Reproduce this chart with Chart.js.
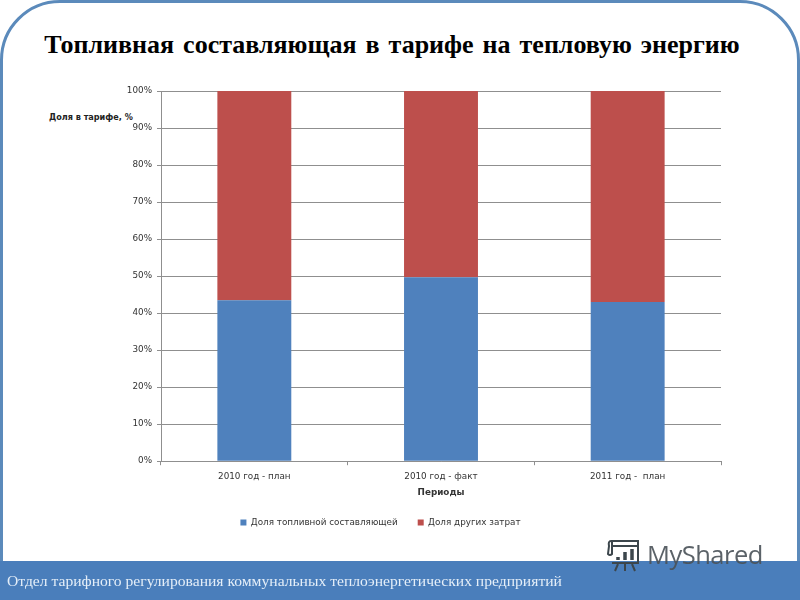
<!DOCTYPE html>
<html lang="ru"><head><meta charset="utf-8">
<script src="https://cdn.jsdelivr.net/npm/chart.js@4"></script>
<style>
html,body{margin:0;padding:0;background:#fff}
#stage{position:relative;width:800px;height:600px;overflow:hidden;background:#fff}
#frame{position:absolute;left:0;top:0;width:794px;height:600px;border:3px solid #5b8abb;border-radius:60px 60px 0 0}
#band{position:absolute;left:0;top:561px;width:800px;height:39px;background:#4a7ebb}
#foot{position:absolute;left:7px;top:572px;font:15.62px "Liberation Serif",serif;color:#e4eef8;white-space:nowrap}
#ttl{position:absolute;left:0;width:784px;text-align:center;top:30px;font:bold 26px "Liberation Serif",serif;color:#000;white-space:nowrap;word-spacing:2.5px}
#ylab{position:absolute;left:49px;top:112px;font:bold 8.1px "DejaVu Sans",sans-serif;color:#222;white-space:nowrap}
canvas{position:absolute;left:0;top:0}
#wm{position:absolute;left:647px;top:537px;font:25.5px "Open Sans",sans-serif;color:#4a5258;opacity:.9;white-space:nowrap;letter-spacing:-.5px}
#ic{position:absolute;left:606px;top:537px}
</style></head><body>
<div id="stage">
<div id="frame"></div><div id="band"></div>
<div id="ttl">Топливная составляющая в тарифе на тепловую энергию</div>
<div id="ylab">Доля в тарифе, %</div>
<canvas id="c" width="800" height="600"></canvas>
<div id="foot">Отдел тарифного регулирования коммунальных теплоэнергетических предприятий</div>
<svg id="ic" width="36" height="36" viewBox="0 0 36 36" fill="none" stroke="#3c464c" stroke-width="2">
<path d="M5 4H33M5 4Q2 4 3 9L2 17Q4 19 6 17V5M6 9H32V26H6M32 4V9"/>
<path d="M12 27L9 34M19 27V34M26 27L29 34"/>
<path d="M12 23V20M19 23V15M26 23V12" stroke-width="3.5"/>
</svg>
<div id="wm">MyShared</div>
</div>
<script>
const categories=["2010 год - план","2010 год - факт","2011 год -  план"];
const fuelShare=[43.5,49.7,43];
const otherShare=[56.5,50.3,57];
const seriesNames=["Доля топливной составляющей","Доля других затрат"];
const axisXTitle="Периоды";
const small={family:'"DejaVu Sans",sans-serif',size:8.8};
new Chart(document.getElementById('c'),{
 type:'bar',
 data:{labels:categories,datasets:[
  {label:seriesNames[0],data:fuelShare,backgroundColor:'#4f81bd',stack:'a'},
  {label:seriesNames[1],data:otherShare,backgroundColor:'#bd4f4c',stack:'a'}]},
 options:{
  responsive:false,animation:false,
  layout:{padding:{left:40,right:79,top:91,bottom:63}},
  datasets:{bar:{barPercentage:1,categoryPercentage:0.396}},
  plugins:{title:{display:false},tooltip:{enabled:false},
   legend:{position:'bottom',labels:{boxWidth:6,boxHeight:6,font:small,color:'#333',padding:20}}},
  scales:{
   x:{stacked:true,
     afterFit(s){s.height=37;},
     grid:{drawOnChartArea:false,drawTicks:true,tickLength:4,color:'#8f8f8f'},
     border:{color:'#8f8f8f'},
     ticks:{font:small,color:'#333',padding:6,maxRotation:0},
     title:{display:true,text:axisXTitle,font:{...small,weight:'bold'},color:'#333',padding:{top:0,bottom:0}}},
   y:{stacked:true,min:0,max:100,
     afterFit(s){s.width=121;},
     grid:{color:'#8f8f8f',tickLength:4},
     border:{color:'#8f8f8f'},
     ticks:{stepSize:10,font:small,color:'#333',padding:5,callback:v=>v+'%'}}
  }
 }
});
</script>
</body></html>
